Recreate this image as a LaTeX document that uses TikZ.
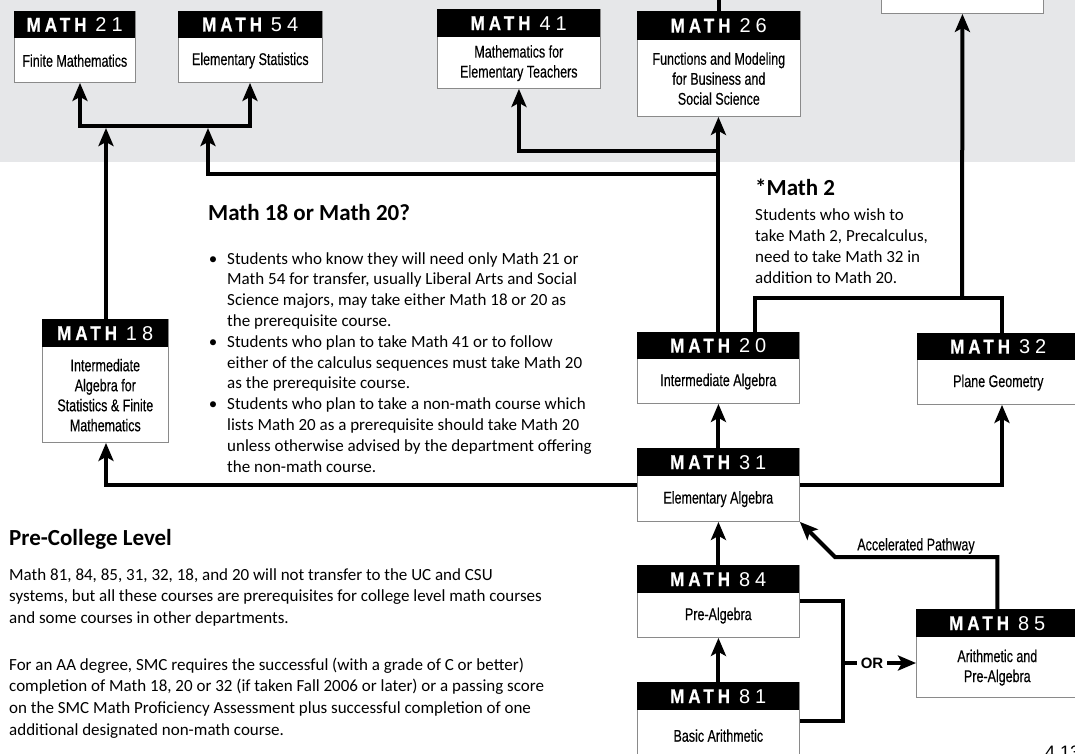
\documentclass[tikz,border=0pt]{standalone}
\usepackage{fontspec}
\setmainfont{Carlito}
\newfontfamily\boxfont[FakeStretch=0.735,FakeBold=0.3]{Liberation Sans}
\newfontfamily\hdrfont[FakeStretch=0.85,LetterSpace=20,FakeBold=0.8]{Liberation Sans}
\newfontfamily\numfont[LetterSpace=25]{Liberation Sans}
\newfontfamily\orfont{Liberation Sans}
\usetikzlibrary{arrows.meta,calc}
\definecolor{band}{HTML}{E6E7E9}
\definecolor{edge}{HTML}{8A8A8A}
\tikzset{
 ln/.style={line width=4pt, line join=miter, line cap=butt},
 arr/.style={ln, -{Stealth[length=18pt,width=15pt,inset=4pt]}},
 cbox/.style={draw=edge, line width=0.9pt, fill=white, inner sep=0pt, anchor=north west},
 hdr/.style={fill=black, text=white, inner sep=0pt, anchor=north west},
 boxtxt/.style={font=\boxfont\fontsize{17}{20}\selectfont, align=center, inner sep=0pt},
 body/.style={font=\fontsize{17}{21}\selectfont, inner sep=0pt, anchor=base west},
 head/.style={font=\bfseries\fontsize{23}{26}\selectfont, inner sep=0pt, anchor=base west},
}
\newcommand\course[8]{%
 \node[cbox, minimum width=#4, minimum height=#5] (#1) at (#2,#3) {};
 \node[hdr, minimum width=#4, minimum height=#6] (#1h) at (#2,#3) {{\hdrfont\bfseries\fontsize{20}{20}\selectfont MATH}\hspace{9pt}{\numfont\fontsize{20}{20}\selectfont #7}};
 \node[boxtxt] (#1t) at ($(#1h.south)!0.5!(#1.south)$) {#8};
}
\begin{document}
\begin{tikzpicture}[x=1pt,y=-1pt]
\useasboundingbox (0,0) rectangle (1075,753);
\clip (0,0) rectangle (1075,753);
\fill[white] (0,0) rectangle (1075,753);
\fill[band] (0,0) rectangle (1075,162);

% boxes
\course{m21}{14}{11}{121}{71}{27}{21}{Finite Mathematics}
\course{m54}{178}{11}{144}{71}{27}{54}{Elementary Statistics}
\course{m41}{437}{9}{163}{79}{28}{41}{Mathematics for\\Elementary Teachers}
\course{m26}{637}{11}{163}{105}{29}{26}{Functions and Modeling\\for Business and\\Social Science}
\course{m18}{42}{319}{126}{123}{28}{18}{Intermediate\\Algebra for\\Statistics \& Finite\\Mathematics}
\course{m20}{637}{332}{162}{71}{27}{20}{Intermediate Algebra}
\course{m32}{917}{333}{162}{71}{27}{32}{Plane Geometry}
\course{m31}{637}{448}{162}{73}{28}{31}{Elementary Algebra}
\course{m84}{637}{565}{162}{72}{28}{84}{Pre-Algebra}
\course{m81}{637}{682}{162}{78}{28}{81}{Basic Arithmetic}
\course{m85}{916}{609}{162}{88}{28}{85}{Arithmetic and\\Pre-Algebra}
\node[cbox, minimum width=162, minimum height=50] (mtop) at (881,-37) {};

% helper coordinates
\coordinate (j21) at (80,126);
\coordinate (j54) at (250,126);
\coordinate (j18) at (106,128);
\coordinate (a174) at (718.5,174);
\coordinate (b174) at (208,174);
\coordinate (t174) at (208,128);
\coordinate (a151) at (718.5,151);
\coordinate (t20) at (755,332);
\coordinate (top2) at (755,298);
\coordinate (top32) at (1002,298);
\coordinate (jtop) at (962,298);
\coordinate (c32) at (1002,0);
\coordinate (cor) at (843,0);
\coordinate (acc) at (835,557);

% connectors
\draw[ln, {Stealth[length=18pt,width=15pt,inset=4pt]}-{Stealth[length=18pt,width=15pt,inset=4pt]}]
  (m21.south -| j21) -- (j21) -- (j54) -- (m54.south -| j54);
\draw[arr] (m18.north -| j18) -- (j18);
\draw[arr] (m20.north) -- (m26.south -| m20.north);
\draw[ln] (m26.north) -- ++(0,-14);
\draw[arr] (a174) -- (b174) -- (t174);
\draw[arr] (a151) -- (a151 -| m41.south) -- (m41.south);
\draw[ln] (t20) -- (top2) -- (top32) -- (m32.north -| top32);
\draw[arr] (jtop) -- (mtop.south);
\draw[arr] (m31.north) -- (m20.south);
\draw[arr] (m31.east) -- (m31.east -| c32) -- (m32.south -| c32);
\draw[arr] (m31.west) -- (m31.west -| j18) -- (m18.south -| j18);
\draw[arr] (m84.north) -- (m31.south);
\draw[arr] (m81.north) -- (m84.south);
\draw[ln] (m84.east) -- (m84.east -| cor) -- (m81.east -| cor) -- (m81.east);
\node[font=\orfont\bfseries\fontsize{15}{15}\selectfont, inner sep=4pt] (or) at (872,663) {OR};
\draw[ln] (cor |- or) -- (or.west);
\draw[arr] (or.east) -- (m85.west |- or);
\draw[arr] (m85.north) -- (m85.north |- acc) -- (acc) -- (m31.south east);
\node[boxtxt] (accl) at (916,546) {Accelerated Pathway};

% texts
\node[head] (t1820) at (208,220) {Math 18 or Math 20?};
\foreach \yy in {264,347.2,409.6} \node[body, anchor=base] at (213,\yy) {•};
\node[body] (l0) at (227,264) {Students who know they will need only Math 21 or};
\node[body] (l1) at (227,284.8) {Math 54 for transfer, usually Liberal Arts and Social};
\node[body] (l2) at (227,305.6) {Science majors, may take either Math 18 or 20 as};
\node[body] (l3) at (227,326.4) {the prerequisite course.};
\node[body] (l4) at (227,347.2) {Students who plan to take Math 41 or to follow};
\node[body] (l5) at (227,368) {either of the calculus sequences must take Math 20};
\node[body] (l6) at (227,388.8) {as the prerequisite course.};
\node[body] (l7) at (227,409.6) {Students who plan to take a non-math course which};
\node[body] (l8) at (227,430.4) {lists Math 20 as a prerequisite should take Math 20};
\node[body] (l9) at (227,451.2) {unless otherwise advised by the department offering};
\node[body] (l10) at (227,472) {the non-math course.};

\node[head] (tm2) at (755,195) {*Math 2};
\node[body] (m2a) at (755,220) {Students who wish to};
\node[body] (m2b) at (755,241) {take Math 2, Precalculus,};
\node[body] (m2c) at (755,262) {need to take Math 32 in};
\node[body] (m2d) at (755,283) {addition to Math 20.};

\node[head] (tpc) at (9,545) {Pre-College Level};
\node[body] (p1) at (9,580) {Math 81, 84, 85, 31, 32, 18, and 20 will not transfer to the UC and CSU};
\node[body] (p2) at (9,601.7) {systems, but all these courses are prerequisites for college level math courses};
\node[body] (p3) at (9,623.4) {and some courses in other departments.};
\node[body] (q1) at (9,670) {For an AA degree, SMC requires the successful (with a grade of C or better)};
\node[body] (q2) at (9,691.7) {completion of Math 18, 20 or 32 (if taken Fall 2006 or later) or a passing score};
\node[body] (q3) at (9,713.4) {on the SMC Math Proficiency Assessment plus successful completion of one};
\node[body] (q4) at (9,735) {additional designated non-math course.};

\node[anchor=north west, font=\orfont\fontsize{18}{18}\selectfont, inner sep=0pt] (pg) at (1045,746) {4.13};
\end{tikzpicture}
\end{document}
